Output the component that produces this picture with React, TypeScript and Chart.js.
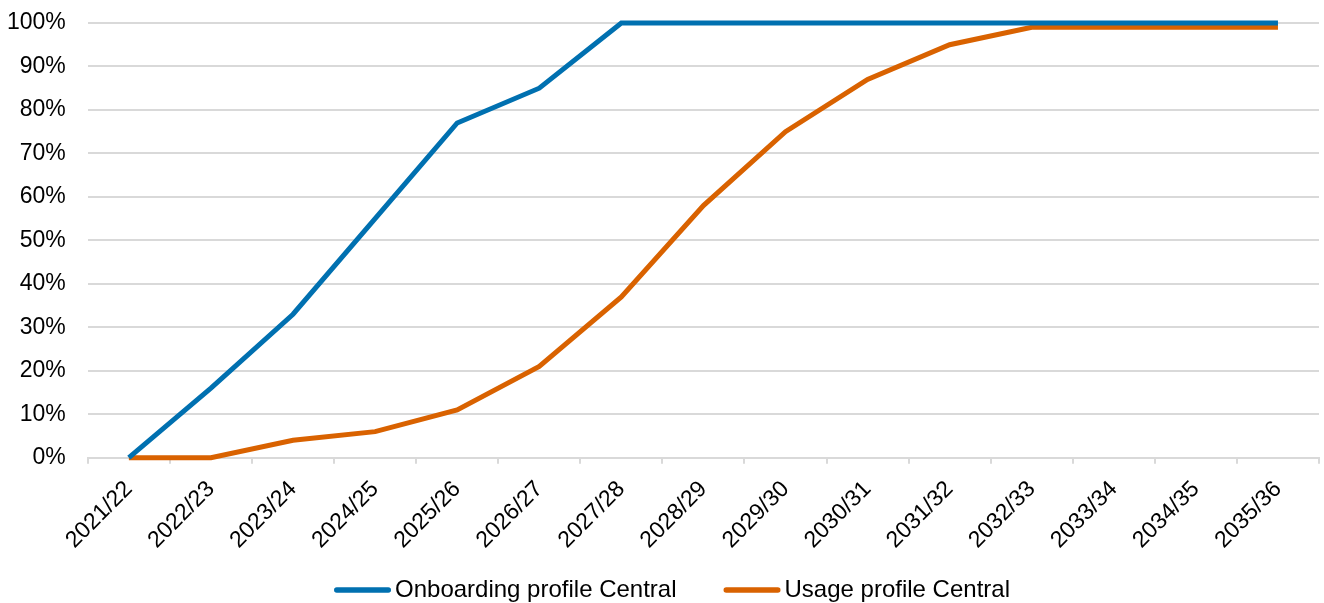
import React, { useEffect, useRef } from "react";
import { Chart, registerables } from "chart.js";

Chart.register(...registerables);

const years = [
  "2021/22", "2022/23", "2023/24", "2024/25", "2025/26",
  "2026/27", "2027/28", "2028/29", "2029/30", "2030/31",
  "2031/32", "2032/33", "2033/34", "2034/35", "2035/36",
];

const onboardingCentral = [0, 16, 33, 55, 77, 85, 100, 100, 100, 100, 100, 100, 100, 100, 100];
const usageCentral = [0, 0, 4, 6, 11, 21, 37, 58, 75, 87, 95, 99, 99, 99, 99];

const yTicks = [0, 10, 20, 30, 40, 50, 60, 70, 80, 90, 100];

const BLUE = "#0070b0";
const ORANGE = "#d96200";
const GRID = "#d9d9d9";
const FONT = "'Liberation Sans', Arial, sans-serif";

// Bottom legend: a short thick line swatch followed by the series name.
const LEGEND_FONT = `24px ${FONT}`;
const SWATCH = 57;
const SWATCH_GAP = 4;
const ITEM_GAP = 47;
const LEGEND_Y = 590;
const LEGEND_CENTER_OFFSET = 10;

const lineLegend = {
  id: "lineLegend",
  afterDraw(chart: any) {
    const ctx = chart.ctx as CanvasRenderingContext2D;
    const sets = chart.data.datasets;
    ctx.save();
    ctx.font = LEGEND_FONT;
    const widths = sets.map((d: any) => ctx.measureText(d.label).width);
    const total =
      widths.reduce((a: number, w: number) => a + SWATCH + SWATCH_GAP + w, 0) +
      ITEM_GAP * (sets.length - 1);
    let x = chart.width / 2 + LEGEND_CENTER_OFFSET - total / 2;
    sets.forEach((d: any, i: number) => {
      ctx.strokeStyle = d.borderColor;
      ctx.lineWidth = 5.5;
      ctx.lineCap = "round";
      ctx.beginPath();
      ctx.moveTo(x + 2.75, LEGEND_Y);
      ctx.lineTo(x + SWATCH - 2.75, LEGEND_Y);
      ctx.stroke();
      x += SWATCH + SWATCH_GAP;
      ctx.fillStyle = "#000";
      ctx.textAlign = "left";
      ctx.textBaseline = "middle";
      ctx.fillText(d.label, x, LEGEND_Y);
      x += widths[i] + ITEM_GAP;
    });
    ctx.restore();
  },
};

export default function App() {
  const canvasRef = useRef<HTMLCanvasElement | null>(null);

  useEffect(() => {
    document.body.style.margin = "0";
    const canvas = canvasRef.current;
    if (!canvas) return;
    const chart = new Chart(canvas, {
      type: "line",
      data: {
        labels: years,
        datasets: [
          {
            label: "Onboarding profile Central",
            data: onboardingCentral,
            borderColor: BLUE,
            backgroundColor: BLUE,
            borderWidth: 5,
            pointRadius: 0,
            tension: 0,
            clip: false,
          },
          {
            label: "Usage profile Central",
            data: usageCentral,
            borderColor: ORANGE,
            backgroundColor: ORANGE,
            borderWidth: 5,
            pointRadius: 0,
            tension: 0,
            clip: false,
          },
        ],
      },
      plugins: [lineLegend],
      options: {
        animation: false,
        responsive: false,
        maintainAspectRatio: false,
        layout: { padding: { top: 23, left: -15, right: 5, bottom: 37 } },
        plugins: {
          tooltip: { enabled: false },
          legend: { display: false },
        },
        scales: {
          x: {
            type: "category",
            offset: true,
            grid: {
              display: true,
              offset: true,
              drawOnChartArea: false,
              drawTicks: true,
              tickLength: 6,
              color: GRID,
              lineWidth: 2,
            },
            border: { display: true, color: GRID, width: 2 },
            ticks: {
              color: "#000",
              font: { family: FONT, size: 23 },
              minRotation: 45,
              maxRotation: 45,
              autoSkip: false,
              padding: 12,
            },
          },
          y: {
            type: "linear",
            min: 0,
            max: 100,
            afterBuildTicks: (scale: any) => {
              scale.ticks = yTicks.map((v) => ({ value: v }));
            },
            afterFit: (s: any) => {
              s.paddingTop = 0;
              s.paddingBottom = 0;
            },
            grid: {
              color: GRID,
              lineWidth: 2,
              drawTicks: false,
            },
            border: { display: false },
            ticks: {
              color: "#000",
              font: { family: FONT, size: 23 },
              padding: 22,
              callback: (v: any) => `${v}%`,
            },
          },
        },
      },
    });
    return () => chart.destroy();
  }, []);

  return (
    <div style={{ position: "absolute", left: 0, top: 0, width: 1324, height: 603 }}>
      <canvas ref={canvasRef} width={1324} height={603} style={{ width: 1324, height: 603 }} />
    </div>
  );
}
